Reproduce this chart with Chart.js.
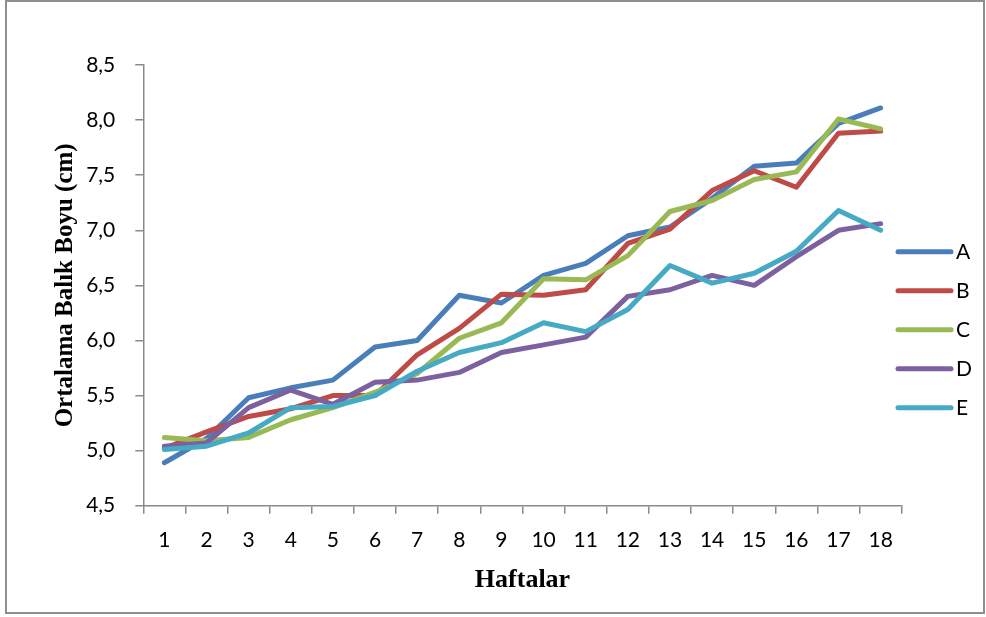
<!DOCTYPE html>
<html>
<head>
<meta charset="utf-8">
<script src="https://cdn.jsdelivr.net/npm/chart.js@4/dist/chart.umd.min.js"></script>
<style>
  html, body { margin: 0; padding: 0; background: #fff; }
  canvas { display: block; }
</style>
</head>
<body>
<canvas id="c" width="986" height="617"></canvas>
<script>
// Weekly mean fish length per group
const weeks = ['1','2','3','4','5','6','7','8','9','10','11','12','13','14','15','16','17','18'];
const groupNames = ['A', 'B', 'C', 'D', 'E'];
const groupA = [4.89, 5.11, 5.48, 5.57, 5.64, 5.94, 6.00, 6.41, 6.34, 6.59, 6.70, 6.95, 7.03, 7.29, 7.58, 7.61, 7.97, 8.11];
const groupB = [5.02, 5.17, 5.31, 5.38, 5.50, 5.50, 5.87, 6.11, 6.42, 6.41, 6.46, 6.88, 7.01, 7.36, 7.54, 7.39, 7.88, 7.90];
const groupC = [5.12, 5.09, 5.12, 5.28, 5.39, 5.53, 5.70, 6.02, 6.16, 6.56, 6.55, 6.77, 7.17, 7.27, 7.46, 7.53, 8.01, 7.92];
const groupD = [5.04, 5.07, 5.39, 5.55, 5.42, 5.62, 5.64, 5.71, 5.89, 5.96, 6.03, 6.40, 6.46, 6.59, 6.50, 6.76, 7.00, 7.06];
const groupE = [5.01, 5.04, 5.16, 5.39, 5.40, 5.50, 5.72, 5.89, 5.98, 6.16, 6.08, 6.28, 6.68, 6.52, 6.61, 6.81, 7.18, 7.00];

const seriesValues = [groupA, groupB, groupC, groupD, groupE];
const seriesColors = ['#4A7EBB', '#BE4B48', '#98B954', '#7D60A0', '#46AAC5'];

const AXIS_GREY = '#898989';
const TICK_FONT = { family: 'Lato', size: 21 };
const TITLE_FONT = { family: '"Liberation Serif", "Times New Roman", serif', weight: 'bold' };

// Right-hand legend: short thick line sample followed by the group name
const sideLegend = {
  id: 'sideLegend',
  afterDraw(chart) {
    const ctx = chart.ctx;
    ctx.save();
    chart.data.datasets.forEach((ds, i) => {
      const y = 251.7 + i * 39;
      ctx.beginPath();
      ctx.strokeStyle = ds.borderColor;
      ctx.lineWidth = 5;
      ctx.lineCap = 'round';
      ctx.moveTo(898, y);
      ctx.lineTo(951, y);
      ctx.stroke();
      ctx.fillStyle = '#000';
      ctx.font = '21px Lato';
      ctx.textAlign = 'left';
      ctx.textBaseline = 'middle';
      ctx.fillText(ds.label, 956, y + 1);
    });
    ctx.restore();
  }
};

// Thin grey frame round the whole figure
const frame = {
  id: 'frame',
  beforeDraw(chart) {
    const ctx = chart.ctx;
    ctx.save();
    ctx.fillStyle = '#fff';
    ctx.fillRect(0, 0, chart.width, chart.height);
    ctx.strokeStyle = '#8f8f8f';
    ctx.lineWidth = 2;
    ctx.strokeRect(6, 1, 978, 612);
    ctx.restore();
  }
};

new Chart(document.getElementById('c'), {
  type: 'line',
  data: {
    labels: weeks,
    datasets: seriesValues.map((vals, i) => ({
      label: groupNames[i],
      data: vals,
      borderColor: seriesColors[i],
      backgroundColor: seriesColors[i],
      borderWidth: 5,
      borderCapStyle: 'round',
      borderJoinStyle: 'round',
      pointRadius: 0,
      pointHoverRadius: 0,
      tension: 0,
      fill: false,
      order: seriesValues.length - i
    }))
  },
  options: {
    responsive: false,
    devicePixelRatio: 1,
    animation: false,
    layout: { padding: { top: 65, right: 84.3, bottom: 0, left: 0 } },
    plugins: {
      legend: { display: false },
      tooltip: { enabled: false }
    },
    scales: {
      x: {
        type: 'category',
        offset: true,
        grid: {
          offset: true,
          drawOnChartArea: false,
          drawTicks: true,
          tickLength: 8,
          color: AXIS_GREY,
          lineWidth: 1.5
        },
        border: { color: AXIS_GREY, width: 1.5 },
        ticks: {
          color: '#000',
          font: TICK_FONT,
          padding: 14,
          maxRotation: 0,
          autoSkip: false
        },
        title: {
          display: true,
          text: 'Haftalar',
          color: '#000',
          font: Object.assign({ size: 26 }, TITLE_FONT),
          padding: { top: 0, bottom: 21 }
        },
        afterFit(scale) { scale.height = 111.3; }
      },
      y: {
        min: 4.5,
        max: 8.5,
        grid: {
          drawOnChartArea: false,
          drawTicks: true,
          tickLength: 8,
          color: AXIS_GREY,
          lineWidth: 1.5
        },
        border: { color: AXIS_GREY, width: 1.5 },
        ticks: {
          stepSize: 0.5,
          color: '#000',
          font: TICK_FONT,
          padding: 20,
          callback: (v) => Number(v).toFixed(1).replace('.', ',')
        },
        title: {
          display: true,
          text: 'Ortalama Balık Boyu (cm)',
          color: '#000',
          font: Object.assign({ size: 25 }, TITLE_FONT),
          padding: { top: 51, bottom: 0 }
        },
        afterFit(scale) { scale.width = 143.3; }
      }
    }
  },
  plugins: [frame, sideLegend]
});
</script>
</body>
</html>
